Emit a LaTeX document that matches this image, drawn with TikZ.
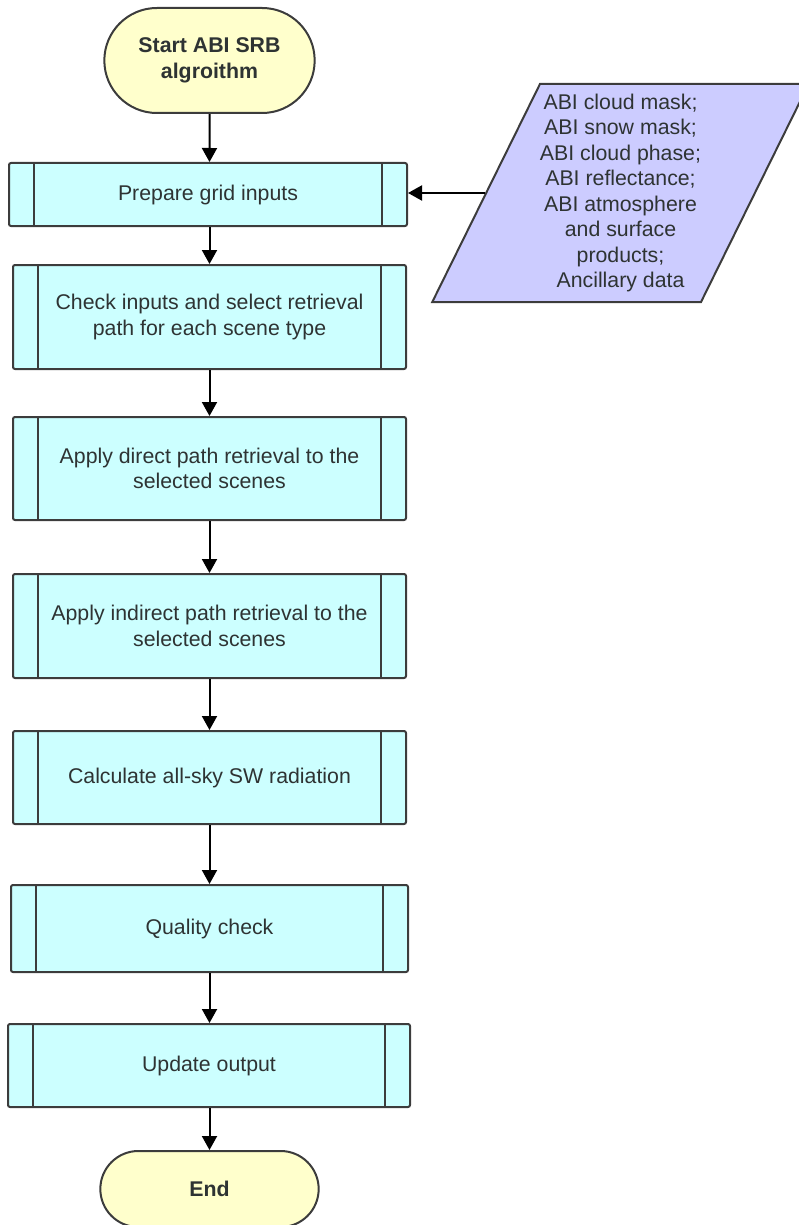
\documentclass[tikz,border=0pt]{standalone}
\usepackage{fontspec}
\setmainfont{Liberation Sans}
\usetikzlibrary{arrows.meta}
\usetikzlibrary{shapes.geometric}
\usetikzlibrary{shapes.misc}
\definecolor{termfill}{HTML}{FFFFCC}
\definecolor{procfill}{HTML}{CCFFFF}
\definecolor{datafill}{HTML}{CCCCFF}
\definecolor{linecol}{HTML}{3C3C3C}
\definecolor{textcol}{HTML}{2E3333}

\begin{document}
\begin{tikzpicture}[->,>={Triangle[width=15pt,length=14pt]},x=1pt,y=-1pt,line width=2pt]
			\tikzset{term/.style = {shape=rounded rectangle, draw=linecol, fill=termfill, align=center, text=textcol,
					font=\fontsize{21.3}{25.5}\selectfont\bfseries}}
			\tikzset{proc/.style = {shape=rectangle, rounded corners=2pt, draw=linecol, fill=procfill, align=center, text=textcol,
					font=\fontsize{21.3}{25.5}\selectfont,
					path picture={\draw[-,draw=linecol,line width=2pt]
						([xshift=25pt]path picture bounding box.north west) -- ([xshift=25pt]path picture bounding box.south west)
						([xshift=-25pt]path picture bounding box.north east) -- ([xshift=-25pt]path picture bounding box.south east);}}}
			\tikzset{data/.style = {shape=trapezium, trapezium left angle=61.5, trapezium right angle=118.5, trapezium stretches body,
					draw=linecol, fill=datafill, align=center, text=textcol, inner sep=0pt,
					font=\fontsize{21.3}{25.5}\selectfont}}
			\useasboundingbox (0,0) rectangle (798,1225);
			
			\node[term, minimum width=217pt, minimum height=105pt] (START) at (209.5,60.5) {Start ABI SRB\\algroithm};
			\node[proc, minimum width=398pt, minimum height=63pt] (PREP) at (208,194.5) {Prepare grid inputs};
			\node[proc, minimum width=393pt, minimum height=104pt] (CHECK) at (209.5,317) {Check inputs and select retrieval\\path for each scene type};
			\node[proc, minimum width=393pt, minimum height=103pt] (DIRECT) at (209.5,468.5) {Apply direct path retrieval to the\\selected scenes};
			\node[proc, minimum width=393pt, minimum height=104pt] (INDIRECT) at (209.5,626) {Apply indirect path retrieval to the\\selected scenes};
			\node[proc, minimum width=393pt, minimum height=93pt] (CALC) at (209.5,777.5) {Calculate all-sky SW radiation};
			\node[proc, minimum width=397pt, minimum height=87pt] (QC) at (209.5,928.5) {Quality check};
			\node[proc, minimum width=402pt, minimum height=83pt] (UPDATE) at (209,1065.5) {Update output};
			\node[term, minimum width=225pt, minimum height=76pt] (END) at (209.5,1189) {End};
			
			\node[data, minimum width=375pt, minimum height=218pt] (DATA) at (620.5,193)
			{ABI cloud mask;\\ABI snow mask;\\ABI cloud phase;\\ABI reflectance;\\ABI atmosphere\\and surface\\products;\\Ancillary data};
			
			\draw (START) -- (START |- PREP.north);
			\draw (START |- PREP.south) -- (START |- CHECK.north);
			\draw (CHECK) -- (DIRECT);
			\draw (DIRECT) -- (INDIRECT);
			\draw (INDIRECT) -- (CALC);
			\draw (CALC) -- (QC);
			\draw (QC) -- (QC |- UPDATE.north);
			\draw (QC |- UPDATE.south) -- (QC |- END.north);
			\draw (DATA.west) -- (DATA.west -| PREP.east);
\end{tikzpicture}
\end{document}
